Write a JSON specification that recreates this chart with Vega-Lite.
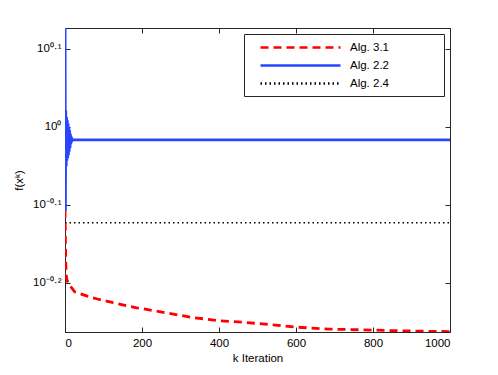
{
  "$schema": "https://vega.github.io/schema/vega-lite/v6.json",
  "width": 385,
  "height": 304,
  "autosize": "none",
  "padding": {"left": 65, "top": 28, "right": 48, "bottom": 43},
  "background": "white",
  "config": {
    "view": {"stroke": "#262626", "strokeWidth": 1},
    "axis": {
      "grid": false,
      "domainColor": "#262626",
      "tickColor": "#262626",
      "tickSize": -5,
      "labelColor": "#000000",
      "labelFont": "Liberation Sans",
      "labelFontSize": 11.5,
      "titleFont": "Liberation Sans",
      "titleFontSize": 11.5,
      "titleFontWeight": "normal",
      "titleColor": "#000000"
    },
    "legend": {
      "orient": "top-right",
      "offset": 6,
      "padding": 7,
      "fillColor": "white",
      "strokeColor": "#262626",
      "cornerRadius": 0,
      "labelFont": "Liberation Sans",
      "labelFontSize": 11.5,
      "labelColor": "#000000",
      "labelLimit": 300,
      "symbolSize": 100,
      "symbolOffset": 43,
      "labelOffset": 43,
      "symbolStrokeWidth": 2.6,
      "rowPadding": 6
    }
  },
  "datasets": {
    "curves": [
      {"series": "Alg. 3.1", "k": 0, "f": 0.783},
      {"series": "Alg. 3.1", "k": 1, "f": 0.72},
      {"series": "Alg. 3.1", "k": 2, "f": 0.671},
      {"series": "Alg. 3.1", "k": 3, "f": 0.646},
      {"series": "Alg. 3.1", "k": 5, "f": 0.6366},
      {"series": "Alg. 3.1", "k": 10, "f": 0.627},
      {"series": "Alg. 3.1", "k": 17, "f": 0.6217},
      {"series": "Alg. 3.1", "k": 25, "f": 0.6143},
      {"series": "Alg. 3.1", "k": 39, "f": 0.611},
      {"series": "Alg. 3.1", "k": 60, "f": 0.606},
      {"series": "Alg. 3.1", "k": 82, "f": 0.6018},
      {"series": "Alg. 3.1", "k": 125, "f": 0.5948},
      {"series": "Alg. 3.1", "k": 186, "f": 0.586},
      {"series": "Alg. 3.1", "k": 264, "f": 0.5772},
      {"series": "Alg. 3.1", "k": 333, "f": 0.5693},
      {"series": "Alg. 3.1", "k": 403, "f": 0.5638},
      {"series": "Alg. 3.1", "k": 472, "f": 0.561},
      {"series": "Alg. 3.1", "k": 540, "f": 0.557},
      {"series": "Alg. 3.1", "k": 602, "f": 0.5534},
      {"series": "Alg. 3.1", "k": 688, "f": 0.5501},
      {"series": "Alg. 3.1", "k": 775, "f": 0.549},
      {"series": "Alg. 3.1", "k": 870, "f": 0.5474},
      {"series": "Alg. 3.1", "k": 950, "f": 0.5466},
      {"series": "Alg. 3.1", "k": 1000, "f": 0.5462},
      {"series": "Alg. 2.2", "k": 0, "f": 1.6},
      {"series": "Alg. 2.2", "k": 1, "f": 0.78},
      {"series": "Alg. 2.2", "k": 2, "f": 1.05},
      {"series": "Alg. 2.2", "k": 3, "f": 0.89},
      {"series": "Alg. 2.2", "k": 4, "f": 1.03},
      {"series": "Alg. 2.2", "k": 5, "f": 0.905},
      {"series": "Alg. 2.2", "k": 6, "f": 1.02},
      {"series": "Alg. 2.2", "k": 7, "f": 0.912},
      {"series": "Alg. 2.2", "k": 8, "f": 1.01},
      {"series": "Alg. 2.2", "k": 9, "f": 0.92},
      {"series": "Alg. 2.2", "k": 10, "f": 1.0},
      {"series": "Alg. 2.2", "k": 11, "f": 0.93},
      {"series": "Alg. 2.2", "k": 12, "f": 0.99},
      {"series": "Alg. 2.2", "k": 13, "f": 0.94},
      {"series": "Alg. 2.2", "k": 14, "f": 0.98},
      {"series": "Alg. 2.2", "k": 15, "f": 0.95},
      {"series": "Alg. 2.2", "k": 16, "f": 0.972},
      {"series": "Alg. 2.2", "k": 17, "f": 0.956},
      {"series": "Alg. 2.2", "k": 18, "f": 0.966},
      {"series": "Alg. 2.2", "k": 20, "f": 0.9623},
      {"series": "Alg. 2.2", "k": 1000, "f": 0.9623},
      {"series": "Alg. 2.4", "k": 0, "f": 0.7534},
      {"series": "Alg. 2.4", "k": 1000, "f": 0.7534}
    ]
  },
  "data": {"name": "curves"},
  "layer": [
    {
      "transform": [{"filter": "datum.series === 'Alg. 3.1'"}],
      "mark": {"type": "line", "clip": true, "strokeWidth": 2.8},
      "encoding": {
        "x": {
          "field": "k", "type": "quantitative",
          "scale": {"domain": [0, 1000], "nice": false, "zero": false},
          "axis": {"orient": "bottom", "values": [0, 200, 400, 600, 800, 1000], "format": "d", "labelPadding": 10, "title": "k Iteration", "titlePadding": 4}
        },
        "y": {
          "field": "f", "type": "quantitative",
          "scale": {"type": "log", "domain": [0.5455, 1.3395], "nice": false},
          "axis": {
            "orient": "left",
            "values": [0.630957, 0.794328, 1, 1.258925],
            "labelExpr": "datum.value > 1.1 ? '10⁰·¹' : datum.value > 0.9 ? '10⁰' : datum.value > 0.7 ? '10⁻⁰·¹' : '10⁻⁰·²'",
            "labelPadding": 9,
            "title": "f(xᵏ)",
            "titlePadding": 8
          }
        },
        "color": {
          "field": "series", "type": "nominal",
          "scale": {"domain": ["Alg. 3.1", "Alg. 2.2", "Alg. 2.4"], "range": ["#ff0000", "#2846ff", "#000000"]},
          "legend": {"title": null, "symbolType": "M-8,0H8", "labelExpr": "datum.label + '\u00a0\u00a0\u00a0\u00a0\u00a0\u00a0\u00a0\u00a0\u00a0\u00a0\u00a0\u00a0\u00a0\u00a0\u00a0\u200b'"}
        },
        "strokeDash": {
          "field": "series", "type": "nominal",
          "scale": {"domain": ["Alg. 3.1", "Alg. 2.2", "Alg. 2.4"], "range": [[8, 5], [1, 0], [1.5, 3]]},
          "legend": {"title": null, "symbolType": "M-8,0H8", "labelExpr": "datum.label + '\u00a0\u00a0\u00a0\u00a0\u00a0\u00a0\u00a0\u00a0\u00a0\u00a0\u00a0\u00a0\u00a0\u00a0\u00a0\u200b'"}
        }
      }
    },
    {
      "transform": [{"filter": "datum.series === 'Alg. 2.2'"}],
      "mark": {"type": "line", "clip": true, "strokeWidth": 2.8},
      "encoding": {
        "x": {
          "field": "k", "type": "quantitative",
          "axis": {"orient": "top", "values": [0, 200, 400, 600, 800, 1000], "labels": false, "title": null}
        },
        "y": {
          "field": "f", "type": "quantitative",
          "axis": {"orient": "right", "values": [0.630957, 0.794328, 1, 1.258925], "labels": false, "title": null}
        },
        "color": {"field": "series", "type": "nominal", "legend": null},
        "strokeDash": {"field": "series", "type": "nominal", "legend": null}
      }
    },
    {
      "transform": [{"filter": "datum.series === 'Alg. 2.4'"}],
      "mark": {"type": "line", "clip": true, "strokeWidth": 1.6},
      "encoding": {
        "x": {"field": "k", "type": "quantitative", "axis": null},
        "y": {"field": "f", "type": "quantitative", "axis": null},
        "color": {"field": "series", "type": "nominal", "legend": null},
        "strokeDash": {"field": "series", "type": "nominal", "legend": null}
      }
    }
  ],
  "resolve": {"axis": {"x": "independent", "y": "independent"}}
}
